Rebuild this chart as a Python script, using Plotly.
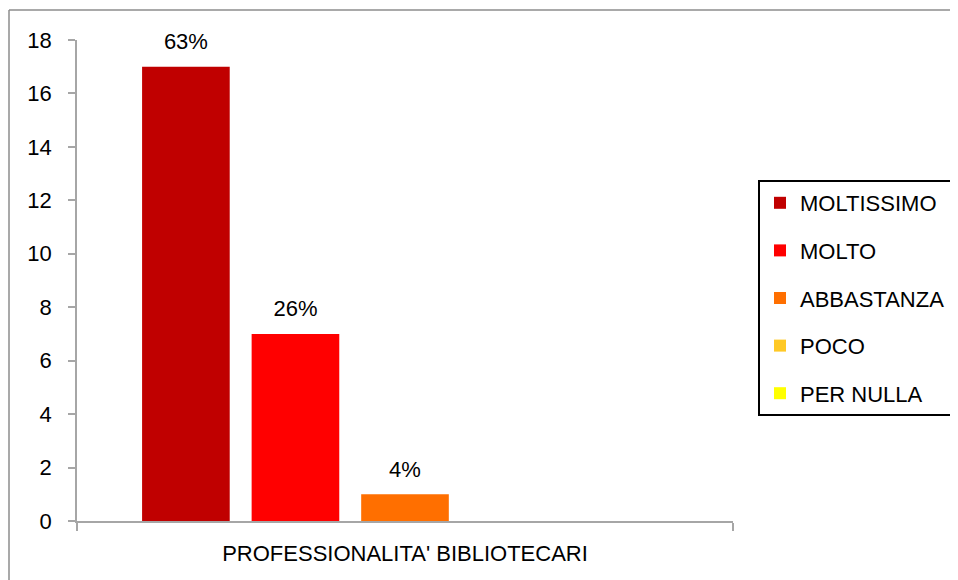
import plotly.graph_objects as go

categories = ["PROFESSIONALITA' BIBLIOTECARI"]
series_names = ["MOLTISSIMO", "MOLTO", "ABBASTANZA", "POCO", "PER NULLA"]
series_values = [17, 7, 1, 0, 0]
series_labels = ["63%", "26%", "4%", "", ""]
series_colors = ["#C00000", "#FF0000", "#FF6F00", "#FFC926", "#FFFF00"]
y_ticks = [0, 2, 4, 6, 8, 10, 12, 14, 16, 18]

FONT = "Liberation Sans"
FS = 22
fig = go.Figure()

for i, (name, val, col) in enumerate(zip(series_names, series_values, series_colors)):
    fig.add_trace(go.Bar(
        x=categories, y=[val], name=name, marker=dict(color=col, line=dict(width=0)),
        offsetgroup=str(i), legendgroup=str(i),
    ))

for i, (name, val, lab) in enumerate(zip(series_names, series_values, series_labels)):
    fig.add_trace(go.Scatter(
        x=categories, y=[val], mode="text+markers" if lab else "markers",
        text=[lab], textposition="top center",
        textfont=dict(family=FONT, size=FS, color="#000000"),
        marker=dict(size=18, color="rgba(0,0,0,0)"),
        offsetgroup=str(i), showlegend=False, cliponaxis=False, hoverinfo="skip",
    ))

axis_col = "#A6A6A6"
W, H = 950, 572
L, R, T, B = 69, 225, 32, 59
pw, ph = W - L - R, H - T - B
fig.update_layout(
    width=W, height=H,
    margin=dict(l=L, r=R, t=T, b=B, autoexpand=False),
    paper_bgcolor="white", plot_bgcolor="white",
    barmode="group", bargap=0.165, bargroupgap=0.2,
    scattermode="group", scattergap=0.165,
    font=dict(family=FONT, size=FS, color="#000000"),
    showlegend=True,
    legend=dict(
        x=(750 - L) / pw, xanchor="left", y=(H - B - 290) / ph, yanchor="middle",
        bordercolor="#000000", borderwidth=2, bgcolor="white",
        font=dict(family=FONT, size=FS, color="#000000"),
        traceorder="grouped", tracegroupgap=16,
    ),
    xaxis=dict(
        type="category", showline=True, linecolor=axis_col, linewidth=1.5,
        ticks="outside", tickson="boundaries", ticklen=8, tickcolor=axis_col, tickwidth=1.5,
        showgrid=False, zeroline=False, ticklabelstandoff=12,
        tickfont=dict(family=FONT, size=FS),
    ),
    yaxis=dict(
        range=[0, 18], tickvals=y_ticks, showline=True, linecolor=axis_col, linewidth=1.5,
        ticks="outside", ticklen=7, tickcolor=axis_col, tickwidth=1.5,
        showgrid=False, zeroline=False, ticklabelstandoff=12,
        tickfont=dict(family=FONT, size=FS),
    ),
    shapes=[
        dict(type="line", xref="paper", yref="paper", x0=(1 - L) / pw, x1=1.5,
             y0=1 + (T - 2) / ph, y1=1 + (T - 2) / ph,
             line=dict(color="#8C8C8C", width=1.5)),
        dict(type="line", xref="paper", yref="paper", x0=(1 - L) / pw, x1=(1 - L) / pw,
             y0=1 + (T - 2) / ph, y1=-0.3,
             line=dict(color="#8C8C8C", width=1.5)),
    ],
)

fig.write_html("out.html")
